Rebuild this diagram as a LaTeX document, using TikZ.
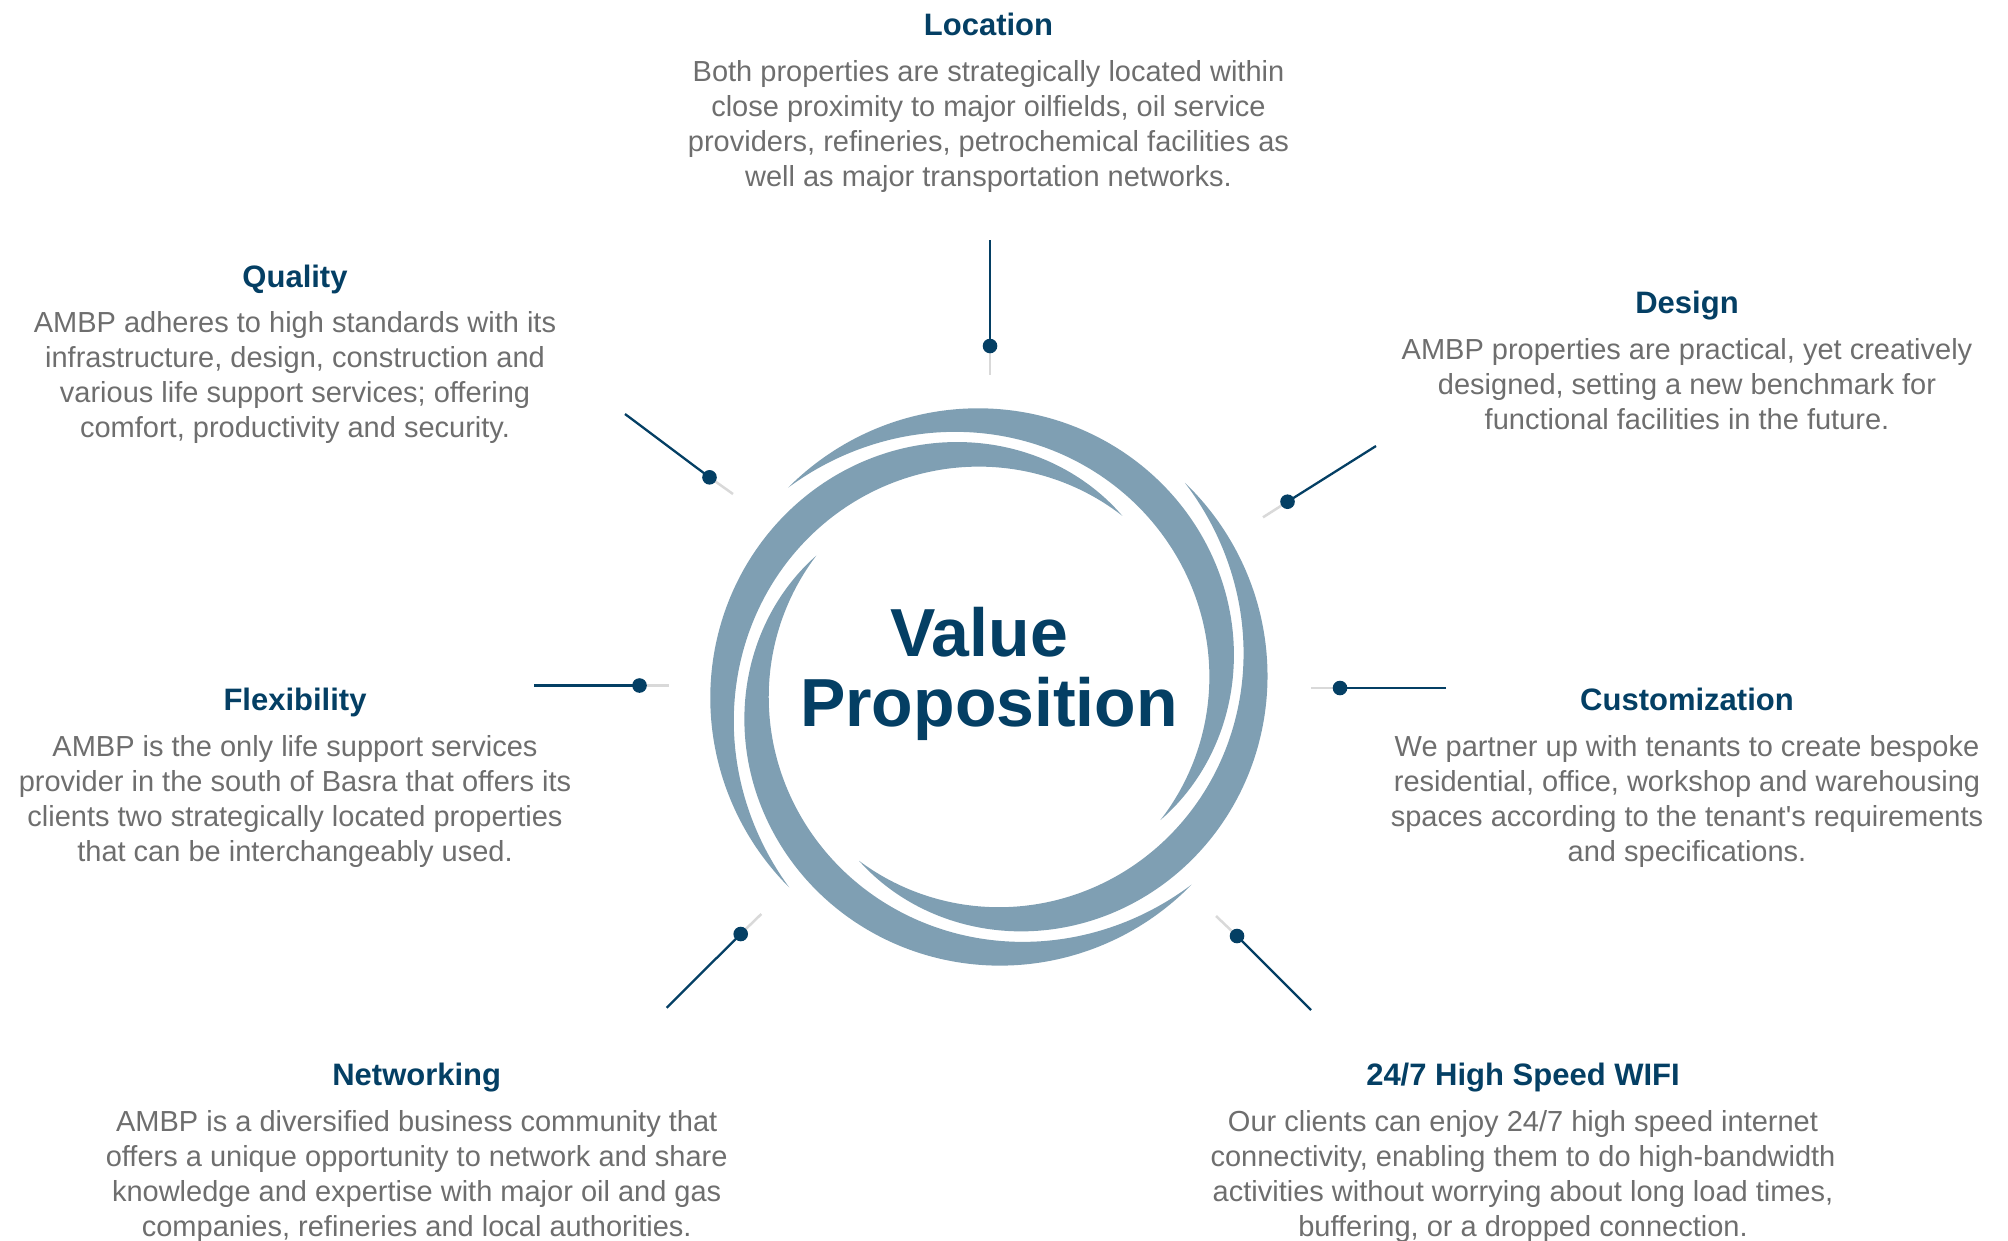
\documentclass[tikz,border=0pt]{standalone}
\usepackage{fontspec}
\setmainfont{Liberation Sans}
\definecolor{navy}{RGB}{4,63,100}
\definecolor{txtgray}{RGB}{110,110,110}
\definecolor{ringblue}{RGB}{127,159,179}
\definecolor{linegray}{RGB}{217,217,217}
\tikzset{
  ttl/.style={font=\fontsize{31}{37}\selectfont\bfseries, text=navy, anchor=base, inner sep=0pt},
  bodytxt/.style={font=\fontsize{29}{35}\selectfont, text=txtgray, align=center, anchor=base, inner sep=0pt},
  navyline/.style={draw=navy, line width=2.3pt},
  grayline/.style={draw=linegray, line width=2.5pt},
  dotnode/.style={circle, fill=navy, minimum size=14.6pt, inner sep=0pt},
  ringband/.style={fill=ringblue},
  bigttl/.style={font=\fontsize{68}{70}\selectfont\bfseries, text=navy, align=center, anchor=base, inner sep=0pt}
}
\begin{document}
\begin{tikzpicture}[x=1pt,y=-1pt]
\useasboundingbox (0,0) rectangle (2008,1240);
% ring
\begin{scope}[shift={(989,687)}, yscale=-1]
  \foreach \s in {135.2,46.2,-44.3,-134.9} {
    \fill[ringband] plot[domain=0:1, samples=90, smooth] ({\s-173*\x}:{283-66*\x*\x})
      -- plot[domain=1:0, samples=90, smooth] ({\s-173*\x}:{217+66*(1-\x)*(1-\x)}) -- cycle;
  }
\end{scope}
% base anchor of a multi-line node = baseline of its last line
\node[bigttl] (vp) at (989,726.3) {Value\hspace*{20pt}\\Proposition};
% connectors
\coordinate (locA) at (990,240); \coordinate (locD) at (990,346); \coordinate (locB) at (990,375);
\coordinate (qalA) at (625,414); \coordinate (qalD) at (709.5,477.3); \coordinate (qalB) at (733,494);
\coordinate (desA) at (1376,446); \coordinate (desD) at (1287.5,501.7); \coordinate (desB) at (1263,517.3);
\coordinate (flxA) at (534,685.5); \coordinate (flxD) at (639.5,685.5); \coordinate (flxB) at (668.5,685.5);
\coordinate (cusA) at (1446,688); \coordinate (cusD) at (1340,688); \coordinate (cusB) at (1311,688);
\coordinate (netA) at (666.7,1007.7); \coordinate (netD) at (740.7,934); \coordinate (netB) at (761.3,914);
\coordinate (wifA) at (1311,1010); \coordinate (wifD) at (1237,936); \coordinate (wifB) at (1216,916);
\foreach \n in {loc,qal,des,flx,cus,net,wif} {
  \draw[grayline] (\n D) -- (\n B);
  \draw[navyline] (\n A) -- (\n D);
  \node[dotnode] (\n Dot) at (\n D) {};
}
% texts
\node[ttl] (locT) at (988.5,35) {Location};
\node[bodytxt] (locX) at (988.5,186) {Both properties are strategically located within\\close proximity to major oilfields, oil service\\providers, refineries, petrochemical facilities as\\well as major transportation networks.};
\node[ttl] (qalT) at (295,287.5) {Quality};
\node[bodytxt] (qalX) at (295,437) {AMBP adheres to high standards with its\\infrastructure, design, construction and\\various life support services; offering\\comfort, productivity and security.};
\node[ttl] (desT) at (1687,313) {Design};
\node[bodytxt] (desX) at (1687,429) {AMBP properties are practical, yet creatively\\designed, setting a new benchmark for\\functional facilities in the future.};
\node[ttl] (flxT) at (295,710.6) {Flexibility};
\node[bodytxt] (flxX) at (295,861.5) {AMBP is the only life support services\\provider in the south of Basra that offers its\\clients two strategically located properties\\that can be interchangeably used.};
\node[ttl] (cusT) at (1687,710.6) {Customization};
\node[bodytxt] (cusX) at (1687,861.5) {We partner up with tenants to create bespoke\\residential, office, workshop and warehousing\\spaces according to the tenant\textquotesingle s requirements\\and specifications.};
\node[ttl] (netT) at (416.7,1085) {Networking};
\node[bodytxt] (netX) at (416.7,1236) {AMBP is a diversified business community that\\offers a unique opportunity to network and share\\knowledge and expertise with major oil and gas\\companies, refineries and local authorities.};
\node[ttl] (wifT) at (1523,1085) {24/7 High Speed WIFI};
\node[bodytxt] (wifX) at (1523,1236) {Our clients can enjoy 24/7 high speed internet\\connectivity, enabling them to do high-bandwidth\\activities without worrying about long load times,\\buffering, or a dropped connection.};
\end{tikzpicture}
\end{document}
